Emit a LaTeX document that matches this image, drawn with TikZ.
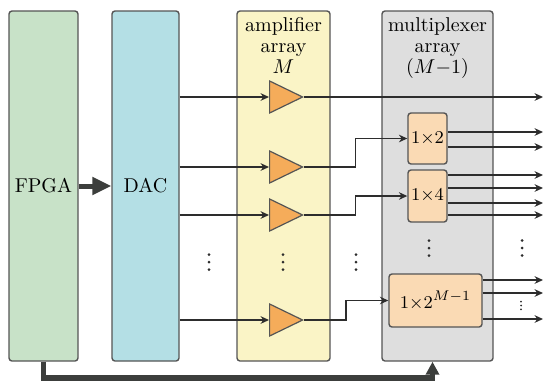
\documentclass[tikz,border=0pt]{standalone}
\usetikzlibrary{shapes.geometric,arrows.meta}

\definecolor{fpgagreen}{RGB}{200,226,200}
\definecolor{dacblue}{RGB}{180,223,229}
\definecolor{ampyellow}{RGB}{250,244,198}
\definecolor{muxgray}{RGB}{222,222,222}
\definecolor{amporange}{RGB}{245,172,90}
\definecolor{muxpeach}{RGB}{250,218,180}
\definecolor{bordergray}{RGB}{85,85,85}
\definecolor{linegray}{RGB}{45,45,45}
\definecolor{busgray}{RGB}{60,62,60}

\begin{document}
\begin{tikzpicture}[x=0.5pt,y=-0.5pt,
  panel/.style={draw=bordergray, line width=0.7pt, rounded corners=1.5pt, inner sep=0pt},
  label/.style={font=\fontsize{10}{12}\selectfont},
  head/.style={align=center, inner sep=0pt, anchor=north, font=\fontsize{10}{10.6}\selectfont},
  amp/.style={isosceles triangle, isosceles triangle stretches, shape border rotate=0,
    draw=bordergray, fill=amporange, line width=0.6pt,
    minimum width=16pt, minimum height=16.5pt, inner sep=0pt},
  muxbox/.style={panel, fill=muxpeach, font=\fontsize{9.5}{11}\selectfont},
  wire/.style={draw=linegray, line width=0.85pt},
  conn/.style={wire, -{Stealth[length=4.2pt,width=3.8pt]}},
  bus/.style={draw=busgray, line width=2.8pt},
  dotmark/.style={fill=linegray},
]
\useasboundingbox (0,0) rectangle (545,381);

% main blocks
\node[panel, label, fill=fpgagreen, minimum width=34.5pt, minimum height=175pt] (fpga) at (43.5,186) {FPGA};
\node[panel, label, fill=dacblue, minimum width=33.5pt, minimum height=175pt] (dac) at (145.5,186) {DAC};
\node[panel, fill=ampyellow, minimum width=46.5pt, minimum height=175pt] (amparr) at (283.5,186) {};
\node[panel, fill=muxgray, minimum width=55.5pt, minimum height=175pt] (muxarr) at (437.5,186) {};

\node[head] (amphead) at (283.5,17) {amplifier\\array\\$M$};
\node[head] (muxhead) at (437.5,17) {multiplexer\\array\\$(M{-}1)$};

% amplifiers
\node[amp, anchor=west] (a1) at (269,97) {};
\node[amp, anchor=west] (a2) at (269,167) {};
\node[amp, anchor=west] (a3) at (269,215) {};
\node[amp, anchor=west] (a4) at (269,320) {};

% switches
\node[muxbox, minimum width=19.5pt, minimum height=25.5pt] (m2) at (427.5,138.5) {$1{\times}2$};
\node[muxbox, minimum width=19.5pt, minimum height=26pt] (m4) at (427.5,196) {$1{\times}4$};
\node[muxbox, minimum width=46.5pt, minimum height=26.5pt] (mM) at (435.5,300.5) {$1{\times}2^{M{-}1}$};

% reference columns for the wiring
\coordinate (rt) at (543,0);
\coordinate (j2) at (355.5,0);
\coordinate (j4) at (346,0);

% DAC to amplifiers
\foreach \a in {a1,a2,a3,a4}
  \draw[conn] (dac.east |- \a.west) -- (\a.west);

% amplifiers to switches
\draw[conn] (a1.east) -- (a1.east -| rt);
\draw[conn] (a2.east) -- (a2.east -| j2) |- (m2.west);
\draw[conn] (a3.east) -- (a3.east -| j2) |- (m4.west);
\draw[conn] (a4.east) -- (a4.east -| j4) |- (mM.west);

% switch outputs
\foreach \n/\dy in {m2/3.25, m2/-4.25, m4/10.5, m4/4, m4/-3.5, m4/-9.5, mM/10.25, mM/3.75, mM/-9.25} {
  \path ([yshift=\dy pt]\n.east) coordinate (o);
  \draw[conn] (o) -- (o -| rt);
}

% control buses from the FPGA
\draw[bus, line width=2.5pt, -{Triangle[length=9.5pt,width=8.5pt]}] (fpga.east) -- (dac.west);
\coordinate (busy) at (0,378);
\path ([xshift=-2.5pt]muxarr.south) coordinate (busin);
\draw[bus, -{Triangle[length=6.5pt,width=6.5pt]}] (fpga.south) -- (fpga.south |- busy) -- (busin |- busy) -- (busin);

% ellipsis marks
\foreach \x/\y in {209/262, 283/262, 356/262, 429/248, 522/248}
  \foreach \k in {-7.5,0,7.5}
    \fill[dotmark] (\x,\y+\k) circle (0.75pt);
\foreach \k in {-3.8,0,3.8}
  \fill[dotmark] (521,305.5+\k) circle (0.5pt);
\end{tikzpicture}
\end{document}
